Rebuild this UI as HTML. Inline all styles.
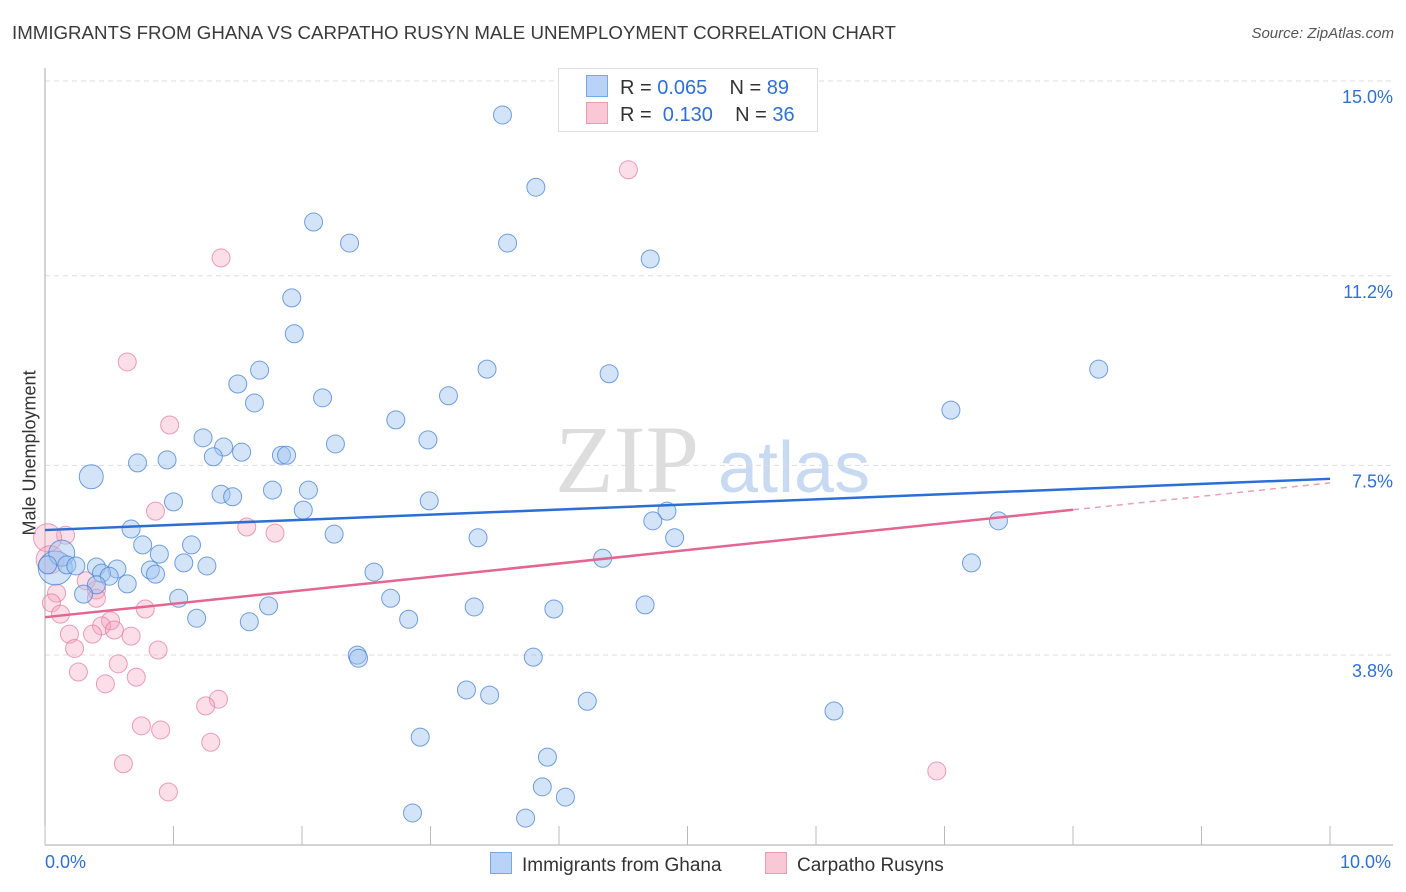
<!DOCTYPE html>
<html><head><meta charset="utf-8"><style>
body{margin:0;background:#fff;font-family:"Liberation Sans",sans-serif;}
#wrap{position:relative;width:1406px;height:892px;overflow:hidden;}
.t{position:absolute;white-space:nowrap;}
</style></head><body>
<div id="wrap">
<div class="t" style="left:12px;top:22px;font-size:18.7px;color:#3a3a3a;">IMMIGRANTS FROM GHANA VS CARPATHO RUSYN MALE UNEMPLOYMENT CORRELATION CHART</div>
<div class="t" style="right:12px;top:25px;font-size:15px;color:#555;font-style:italic;">Source: ZipAtlas.com</div>
<div class="t" style="left:-50px;top:445px;width:160px;text-align:center;transform:rotate(-90deg);font-size:18px;color:#333;">Male Unemployment</div>
<svg id="svg" width="1406" height="892" style="position:absolute;left:0;top:0">
<text x="555" y="492" font-size="96" font-family="Liberation Serif" fill="#ddd">ZIP</text>
<text x="718" y="492" font-size="72" font-family="Liberation Sans" fill="#c8daf2">atlas</text>
</svg>
<div style="position:absolute;left:558px;top:68px;width:258px;height:62px;border:1px solid #ddd;background:#fff;">
 <div style="position:absolute;left:27px;top:6px;font-size:20px;color:#333;"><span style="display:inline-block;width:20px;height:20px;background:#b8d3f5;border:1px solid #7aa8e6;vertical-align:-3px;margin-right:12px;"></span>R = <span style="color:#2f6fd6">0.065</span>&nbsp;&nbsp;&nbsp; N = <span style="color:#2f6fd6">89</span></div>
 <div style="position:absolute;left:27px;top:33px;font-size:20px;color:#333;"><span style="display:inline-block;width:20px;height:20px;background:#f9c8d6;border:1px solid #eb9ab2;vertical-align:-3px;margin-right:12px;"></span>R = &nbsp;<span style="color:#2f6fd6">0.130</span>&nbsp;&nbsp;&nbsp; N = <span style="color:#2f6fd6">36</span></div>
</div>
<div class="t" style="left:45px;top:852px;font-size:18px;color:#2f6fd6;">0.0%</div>
<div class="t" style="left:1340px;top:852px;font-size:18px;color:#2f6fd6;">10.0%</div>
<div class="t" style="left:490px;top:852px;font-size:19px;color:#333;"><span style="display:inline-block;width:20px;height:20px;background:#b8d3f5;border:1px solid #7aa8e6;vertical-align:-3px;margin-right:10px;"></span>Immigrants from Ghana</div>
<div class="t" style="left:765px;top:852px;font-size:19px;color:#333;"><span style="display:inline-block;width:20px;height:20px;background:#f9c8d6;border:1px solid #eb9ab2;vertical-align:-3px;margin-right:10px;"></span>Carpatho Rusyns</div>
</div>
<script>
const yTicks=[15.0,11.2,7.5,3.8];
const yTickLabels=["15.0%","11.2%","7.5%","3.8%"];
const blueX=[3.56,3.82,2.09,2.37,3.60,4.71,1.92,1.94,3.44,4.39,8.20,1.67,1.50,2.16,1.63,3.14,7.05,2.73,1.23,1.39,2.26,2.98,1.31,1.53,1.84,1.88,0.72,0.95,0.36,1.00,1.37,1.46,1.77,2.05,2.99,2.01,4.84,4.73,7.42,0.67,2.25,3.37,4.90,0.76,1.14,0.89,4.34,7.21,1.08,1.26,0.82,0.86,2.56,0.08,0.13,0.17,0.24,0.40,0.56,0.44,0.50,0.64,0.40,0.30,1.04,2.69,1.74,3.34,3.96,4.67,1.18,2.83,1.59,2.43,2.44,3.80,3.28,3.46,4.22,6.14,2.92,3.91,3.87,4.05,2.86,3.74,4.95,0.02];
const blueY=[14.65,13.24,12.56,12.15,12.15,11.84,11.08,10.38,9.69,9.60,9.69,9.67,9.40,9.13,9.03,9.17,8.89,8.70,8.35,8.17,8.23,8.31,7.98,8.07,8.01,8.01,7.86,7.92,7.59,7.10,7.25,7.20,7.33,7.33,7.12,6.94,6.92,6.73,6.73,6.57,6.47,6.40,6.40,6.26,6.26,6.08,6.00,5.91,5.91,5.85,5.77,5.69,5.73,5.81,6.10,5.87,5.85,5.83,5.79,5.71,5.65,5.50,5.48,5.30,5.22,5.22,5.07,5.05,5.01,5.09,4.83,4.81,4.76,4.11,4.05,4.07,3.43,3.33,3.21,3.02,2.51,2.12,1.54,1.34,1.03,0.93,15.08,5.87];
const blueBig={28:12,53:17,54:13};
const pinkX=[4.54,1.37,0.64,0.97,0.86,1.57,1.79,0.16,0.02,0.32,0.40,0.09,0.05,0.12,0.78,0.40,0.51,0.44,0.54,0.19,0.37,0.67,0.88,0.23,0.57,0.26,0.71,0.47,1.35,1.25,0.75,0.90,1.29,0.61,0.96,6.94,0.04];
const pinkY=[13.58,11.86,9.83,8.60,6.92,6.61,6.49,6.45,6.40,5.56,5.38,5.32,5.13,4.91,5.01,5.22,4.78,4.68,4.60,4.52,4.52,4.48,4.21,4.24,3.94,3.78,3.68,3.55,3.25,3.12,2.73,2.65,2.41,1.99,1.44,1.85,5.97];
const pinkBig={8:14,36:14};
const blueTrend=[6.55,7.55];
const pinkTrend=[4.85,7.47];
const pinkSolidEnd=8.0;
const NS="http://www.w3.org/2000/svg";
const svg=document.getElementById('svg');
function xs(v){return 45+v*128.5;}
function ys(v){return 97+(15-v)*51.25;}
function mk(tag,attrs){const e=document.createElementNS(NS,tag);for(const k in attrs)e.setAttribute(k,attrs[k]);svg.appendChild(e);return e;}
yTicks.forEach((t,i)=>{
 const g=mk('line',{x1:45,x2:1393,y1:ys(t)-16,y2:ys(t)-16,stroke:'#ddd','stroke-dasharray':'5,4'});
 
 
 const tx=mk('text',{x:1393,y:ys(t)+6,'text-anchor':'end','font-size':18,fill:'#2f6fd6','font-family':'Liberation Sans'});
 tx.textContent=yTickLabels[i];
 
 
});
const ax=mk('line',{x1:45,x2:45,y1:68,y2:845,stroke:'#aaa'});


const bx=mk('line',{x1:45,x2:1393,y1:845,y2:845,stroke:'#aaa'});


for(let i=0;i<=10;i++){
 const tk=mk('line',{x1:xs(i),x2:xs(i),y1:826,y2:845,stroke:'#bbb'});
 
 
}
pinkX.forEach((x,i)=>{
 const c=mk('circle',{cx:xs(x),cy:ys(pinkY[i]),r:pinkBig[i]||9,fill:'rgba(244,160,188,0.35)',stroke:'rgba(230,120,155,0.7)','stroke-width':1});
 
 
});
blueX.forEach((x,i)=>{
 const c=mk('circle',{cx:xs(x),cy:ys(blueY[i]),r:blueBig[i]||9,fill:'rgba(160,196,240,0.45)',stroke:'rgba(70,130,215,0.75)','stroke-width':1});
 
 
});
const bl=mk('line',{x1:xs(0),y1:ys(blueTrend[0]),x2:xs(10),y2:ys(blueTrend[1]),stroke:'#2a6fd6','stroke-width':2.5});


const pe=pinkTrend[0]+(pinkTrend[1]-pinkTrend[0])*pinkSolidEnd/10;
const pl=mk('line',{x1:xs(0),y1:ys(pinkTrend[0]),x2:xs(pinkSolidEnd),y2:ys(pe),stroke:'#e4668f','stroke-width':2.5});


const pd=mk('line',{x1:xs(pinkSolidEnd),y1:ys(pe),x2:xs(10),y2:ys(pinkTrend[1]),stroke:'#eaa0b8','stroke-width':1.5,'stroke-dasharray':'6,5'});


</script>
</body></html>
